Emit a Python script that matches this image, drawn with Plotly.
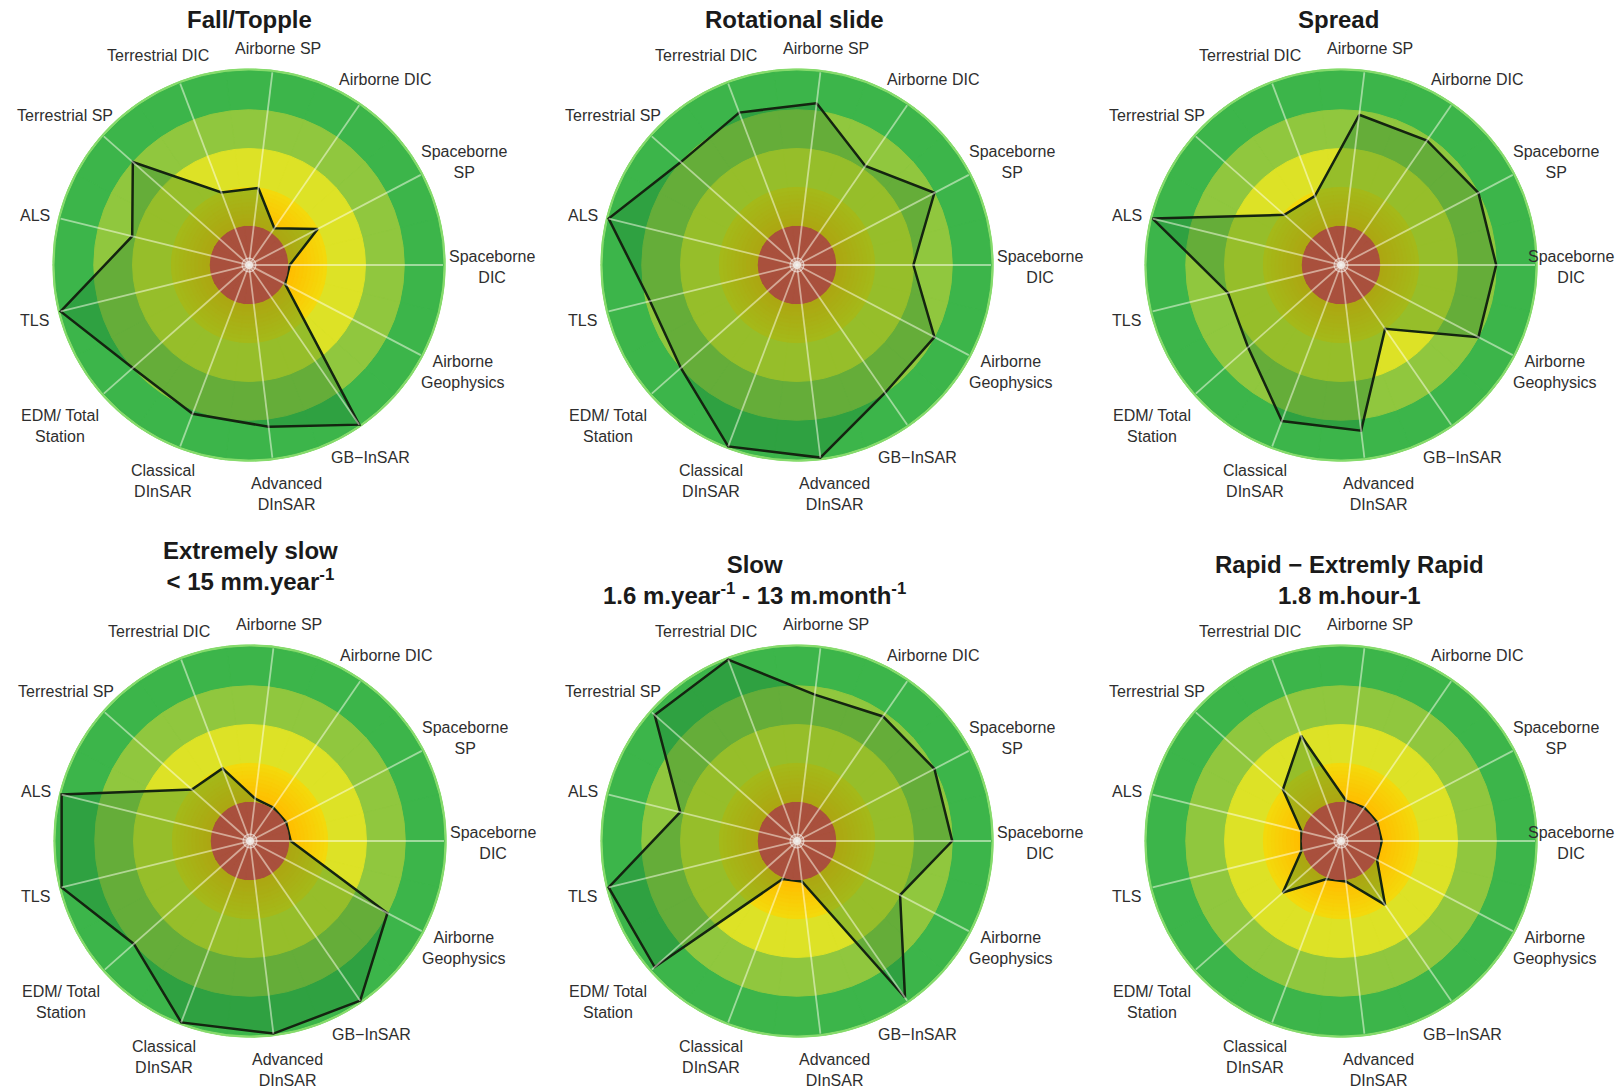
import plotly.graph_objects as go

# Monitoring techniques, listed clockwise starting at the top spoke
CATEGORIES = [
    "Airborne SP", "Airborne DIC", "Spaceborne SP", "Spaceborne DIC",
    "Airborne Geophysics", "GB-InSAR", "Advanced DInSAR", "Classical DInSAR",
    "EDM/ Total Station", "TLS", "ALS", "Terrestrial SP", "Terrestrial DIC",
]
TICK_LABELS = [
    "Airborne SP", "Airborne DIC", "Spaceborne<br>SP", "Spaceborne<br>DIC",
    "Airborne<br>Geophysics", "GB\u2212InSAR", "Advanced<br>DInSAR", "Classical<br>DInSAR",
    "EDM/ Total<br>Station", "TLS", "ALS", "Terrestrial SP", "Terrestrial DIC",
]

# Suitability scores (1 = unsuitable ... 5 = most suitable)
FALL_TOPPLE = [2.0, 1.15, 2.0, 1.05, 1.05, 5.0, 4.2, 4.1, 4.0, 5.0, 3.1, 4.0, 2.0]
ROTATIONAL_SLIDE = [4.2, 3.1, 4.0, 3.0, 4.0, 4.0, 5.0, 5.0, 4.0, 3.9, 5.0, 4.0, 4.2]
SPREAD = [3.9, 3.9, 4.0, 4.0, 4.0, 2.0, 4.3, 4.3, 3.2, 3.0, 5.0, 1.95, 1.9]
EXTREMELY_SLOW = [1.1, 1.05, 1.05, 1.05, 4.0, 5.0, 5.0, 5.0, 4.0, 5.0, 5.0, 2.0, 2.0]
SLOW = [3.8, 3.9, 4.0, 4.0, 3.0, 4.9, 1.05, 1.05, 4.9, 5.0, 3.1, 4.9, 5.0]
RAPID = [1.05, 1.05, 1.05, 1.05, 1.05, 2.0, 1.05, 1.05, 2.0, 1.05, 1.05, 2.0, 2.9]

PANEL_VALUES = [FALL_TOPPLE, ROTATIONAL_SLIDE, SPREAD, EXTREMELY_SLOW, SLOW, RAPID]
PANEL_TITLES = [
    "Fall/Topple",
    "Rotational slide",
    "Spread",
    "Extremely slow<br>< 15 mm.year<sup>-1</sup>",
    "Slow<br>1.6 m.year<sup>-1</sup> - 13 m.month<sup>-1</sup>",
    "Rapid \u2212 Extremly Rapid<br>1.8 m.hour-1",
]

SCALE_MAX = 5
RIM_WIDTH = 0.07  # light rim just outside the top score band

# ---- page geometry (pixels) ----
W, H = 1618, 1090
R_PX = 194  # radius of the score-5 circle
CENTERS = [(249, 265), (797, 265), (1341, 265), (250, 841), (797, 841), (1341, 841)]
TITLE_POS = [(249, 19), (794, 19), (1338, 19), (250, 566), (754, 580), (1349, 580)]
# label centre offsets from each chart centre, one per technique
LABEL_OFFSETS = [
    (29, -217), (136, -186), (215, -103), (243, 2), (214, 107), (121, 193),
    (37, 229), (-86, 216), (-189, 161), (-215, 55), (-214, -50), (-184, -150),
    (-91, -210),
]
LABEL_SIZE = 16
CHAR_W = 0.55 * LABEL_SIZE  # rough average glyph width

# ---- styling ----
RIM_COLOR = "#86DB6C"
RING_OUTER = [(SCALE_MAX + RIM_WIDTH, RIM_COLOR), (5, "#3CB54A"), (4, "#90C73E"), (3, "#DDE226")]
GRADIENT_START = (244, 217, 12)   # at score 2
GRADIENT_END = (255, 190, 0)      # towards score 1
GRADIENT_STEPS = 10
RED_CORE = "#A9503D"
POLY_FILL = "rgba(25,128,50,0.36)"
POLY_LINE = "#142410"
SPOKE_COLOR = "rgba(255,255,240,0.5)"
FONT = "Liberation Sans, Arial, sans-serif"

n = len(CATEGORIES)
rotation = 3 * 360 / n  # Spaceborne DIC points due east
r_range = SCALE_MAX + RIM_WIDTH
r_out_px = R_PX * r_range / SCALE_MAX


def ring(level, color, subplot):
    return go.Barpolar(
        r=[level] * n, theta=CATEGORIES, width=[1] * n,
        marker=dict(color=color, line=dict(color=color, width=1)),
        subplot=subplot, hoverinfo="skip", showlegend=False,
    )


fig = go.Figure()
layout_polars = {}
annotations = []

for k, values in enumerate(PANEL_VALUES):
    base = "polar" if k == 0 else f"polar{k + 1}"
    top = f"polar{k + 7}"

    # background score bands
    for level, color in RING_OUTER:
        fig.add_trace(ring(level, color, base))
    for s in range(GRADIENT_STEPS):
        t = s / (GRADIENT_STEPS - 1)
        rgb = tuple(round(a + (b - a) * t) for a, b in zip(GRADIENT_START, GRADIENT_END))
        level = 2 - s / GRADIENT_STEPS
        fig.add_trace(ring(level, "rgb(%d,%d,%d)" % rgb, base))

    # suitability polygon
    fig.add_trace(go.Scatterpolar(
        r=values + [values[0]], theta=CATEGORIES + [CATEGORIES[0]],
        mode="lines", fill="toself", fillcolor=POLY_FILL,
        line=dict(color=POLY_LINE, width=2.5),
        subplot=base, hoverinfo="skip", showlegend=False,
    ))

    # red core, spokes and hub drawn above the polygon
    fig.add_trace(ring(1, RED_CORE, top))
    spoke_r, spoke_t = [], []
    for c in CATEGORIES:
        spoke_r += [0, SCALE_MAX, None]
        spoke_t += [c, c, None]
    fig.add_trace(go.Scatterpolar(
        r=spoke_r, theta=spoke_t, mode="lines", connectgaps=False,
        line=dict(color=SPOKE_COLOR, width=1.8),
        subplot=top, hoverinfo="skip", showlegend=False,
    ))
    fig.add_trace(go.Scatterpolar(
        r=[0, 0], theta=[CATEGORIES[0], CATEGORIES[0]], mode="markers",
        marker=dict(size=[14, 7], color=["rgba(235,235,235,0.35)", "rgba(240,240,240,0.9)"]),
        subplot=top, hoverinfo="skip", showlegend=False,
    ))

    cx, cy = CENTERS[k]
    domain = dict(
        x=[(cx - r_out_px) / W, (cx + r_out_px) / W],
        y=[1 - (cy + r_out_px) / H, 1 - (cy - r_out_px) / H],
    )
    ang = dict(
        type="category", categoryorder="array", categoryarray=CATEGORIES,
        rotation=rotation, direction="clockwise",
        showgrid=False, showticklabels=False, ticks="", showline=False, visible=False,
    )
    for sub in (base, top):
        layout_polars[sub] = dict(
            domain=domain, bgcolor="rgba(0,0,0,0)", barmode="overlay", bargap=0,
            radialaxis=dict(range=[0, r_range], visible=False),
            angularaxis=ang,
        )

    # technique labels (kept inside the page at the right edge)
    for label, (dx, dy) in zip(TICK_LABELS, LABEL_OFFSETS):
        half_w = max(len(part) for part in label.split("<br>")) * CHAR_W / 2
        lx, anchor = cx + dx, "center"
        if lx + half_w > W - 2:
            lx, anchor = W - 2, "right"
        annotations.append(dict(
            text=label, x=lx / W, y=1 - (cy + dy) / H,
            xref="paper", yref="paper", xanchor=anchor, yanchor="middle",
            align="center", showarrow=False,
            font=dict(family=FONT, size=LABEL_SIZE, color="#2E2E2E"),
        ))

    # panel title
    tx, ty = TITLE_POS[k]
    annotations.append(dict(
        text=PANEL_TITLES[k],
        x=tx / W, y=1 - ty / H,
        xref="paper", yref="paper", xanchor="center", yanchor="middle",
        align="center", showarrow=False,
        font=dict(family=FONT, size=24, color="#1A1A1A", weight="bold"),
    ))

fig.update_layout(
    width=W, height=H, margin=dict(l=0, r=0, t=0, b=0),
    paper_bgcolor="white", plot_bgcolor="white",
    showlegend=False, annotations=annotations,
    **layout_polars,
)

fig.write_html("out.html")
